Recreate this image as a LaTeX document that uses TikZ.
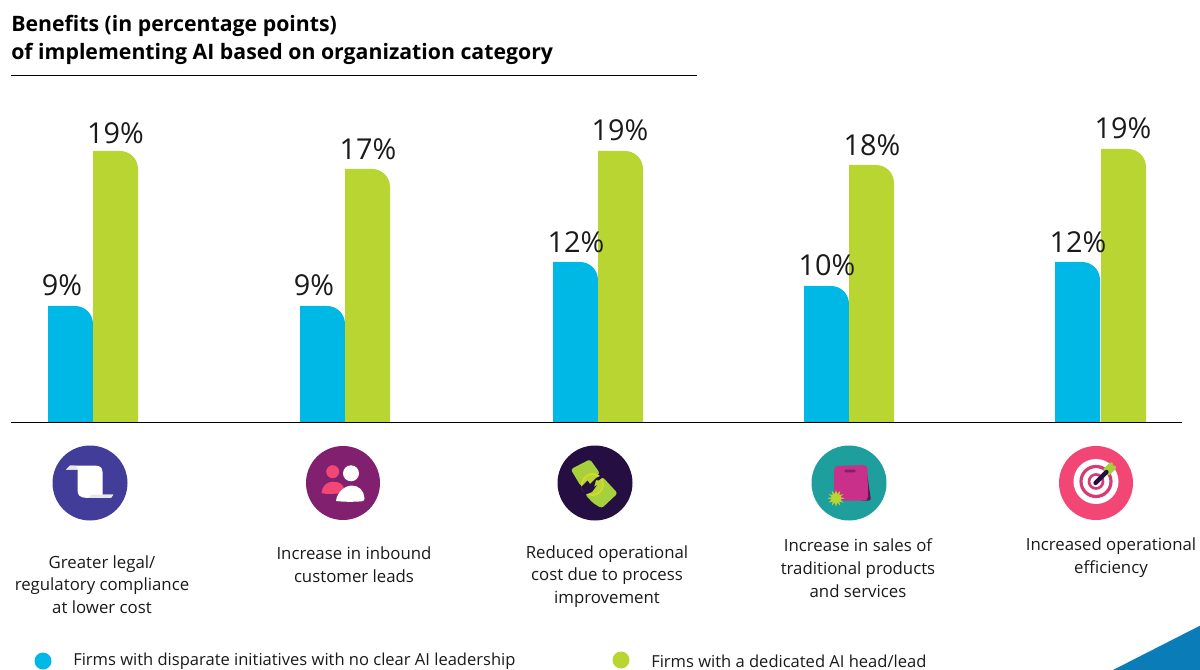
\documentclass[tikz,border=0pt]{standalone}
\usepackage{fontspec}
\setmainfont{Open Sans}
\definecolor{cblue}{HTML}{00B8E6}
\definecolor{cgreen}{HTML}{B9D532}
\definecolor{cink}{HTML}{1A1A1A}
\definecolor{cindigo}{HTML}{423D99}
\definecolor{cplum}{HTML}{80206F}
\definecolor{cpink}{HTML}{F24675}
\definecolor{cnight}{HTML}{250F42}
\definecolor{cteal}{HTML}{1F9E9E}
\definecolor{cmag}{HTML}{C9308A}
\definecolor{cnote}{HTML}{A6D03C}
\definecolor{cyel}{HTML}{D4D92A}
\definecolor{ccorner}{HTML}{0A7CB8}
\newcommand{\chartbar}[3]{%
  \fill[#3] (#1,422) -- (#1,#2) -- ({#1+27},#2) .. controls ({#1+37},#2) and ({#1+45},{#2+8}) .. ({#1+45},{#2+18}) -- ({#1+45},422) -- cycle;}
\tikzset{
  pct/.style={font=\fontsize{21.6pt}{24pt}\selectfont,text=cink,inner sep=0pt,anchor=center},
  captext/.style={font=\fontsize{12.6pt}{17.1pt}\selectfont,text=cink,align=center,inner sep=0pt,anchor=center},
  legtext/.style={font=\fontsize{12.4pt}{15pt}\selectfont,text=cink,inner sep=0pt,anchor=west},
  ttl/.style={font=\fontsize{15.95pt}{21pt}\selectfont\bfseries,text=black,align=left,inner sep=0pt,anchor=north west}
}
\begin{document}
\begin{tikzpicture}[x=0.75pt,y=-0.75pt]
\useasboundingbox (0,0) rectangle (1200,670);
\fill[white] (0,0) rectangle (1200,670);
% title
\node[ttl] (title) at (11,15) {Benefits (in percentage points)\\of implementing AI based on organization category};
\coordinate (ruleA) at (11,75); \coordinate (ruleB) at (697,75);
\draw[line width=0.6pt,black] (ruleA) -- (ruleB);
% bars
\chartbar{48}{306}{cblue}\chartbar{93}{151}{cgreen}
\chartbar{300}{306}{cblue}\chartbar{345}{169}{cgreen}
\chartbar{553}{262}{cblue}\chartbar{598}{151}{cgreen}
\chartbar{804}{286}{cblue}\chartbar{849}{165}{cgreen}
\chartbar{1055}{262}{cblue}\chartbar{1101}{149}{cgreen}
\coordinate (baseA) at (11,422); \coordinate (baseB) at (1182,422);
\draw[line width=0.6pt,black] (baseA) -- (baseB);
% values
\node[pct] (v1a) at (62,285) {9\%};
\node[pct] (v1b) at (115.5,133) {19\%};
\node[pct] (v2a) at (314,285) {9\%};
\node[pct] (v2b) at (368,149) {17\%};
\node[pct] (v3a) at (576,242) {12\%};
\node[pct] (v3b) at (620,130) {19\%};
\node[pct] (v4a) at (827,265) {10\%};
\node[pct] (v4b) at (872,145) {18\%};
\node[pct] (v5a) at (1078,242) {12\%};
\node[pct] (v5b) at (1123,128) {19\%};
% icon 1
\fill[cindigo] (90,483) circle[radius=37.5];
\fill[white] (70,465.7) -- (96,465.7) .. controls (100,465.7) and (102.5,468) .. (102.5,472) -- (102.5,494.5) -- (113.3,494.5) -- (111,497.8) -- (86,497.8) .. controls (80,497.8) and (77.5,495) .. (77.5,490) -- (77.5,469.5) -- (66,469.5) -- cycle;
\fill[black!9] (70,465.7) -- (75,465.7) .. controls (77,466.5) and (77.5,468) .. (77.5,469.5) -- (66,469.5) -- cycle;
\fill[black!9] (88,497.8) .. controls (90,496.5) and (91,495) .. (92,494.5) -- (113.3,494.5) -- (111,497.8) -- cycle;
% icon 2
\fill[cplum] (343,483) circle[radius=37];
\fill[cpink] (332.7,471.7) circle[radius=6.5];
\fill[cpink] (321.6,493) .. controls (322,485) and (328,481.7) .. (333,481.7) .. controls (340,481.7) and (344,485) .. (344,489) -- (338,493.5) .. controls (333,494) and (326,494) .. (323,493.5) -- cycle;
\fill[white] (351,473.3) circle[radius=8];
\fill[white] (336,501) .. controls (337,492) and (345,485.5) .. (352,485.5) .. controls (359,485.5) and (364,491) .. (364.5,498) .. controls (364.5,500) and (364,501) .. (362,501.3) .. controls (353,502) and (344,502) .. (336,501) -- cycle;
% icon 3
\fill[cnight] (595,483) circle[radius=37.5];
\fill[cnote,rounded corners=2pt] (570.7,469.3) -- (590,459.3) -- (600,473.3) -- (581,486.5) -- cycle;
\fill[cnote,rounded corners=2pt] (602.3,476.7) -- (617.7,493.3) -- (601.7,508.3) -- (593,503) -- (585,494.3) -- cycle;
\fill[cyel] (592.5,484.5) circle[radius=11.5];
\fill[cnote!60!cyel] (592.5,484.5) circle[radius=9.5];
\fill[cnight] (581,487) -- (587.5,480.5) -- (590,484) -- (596,478) -- (603,474.5) -- (604.5,476) -- (598.5,480.5) -- (596,480) -- (594,487) -- (597,485) -- (592,492) -- (585,494.8) -- cycle;
% icon 4
\fill[cteal] (849,483) circle[radius=37.5];
\fill[black!25!cplum,rounded corners=1.5pt] (866,466) -- (871,500.5) -- (860,500.7) -- (860,468) -- cycle;
\fill[cmag,rounded corners=3pt] (834,466) -- (867.5,465) -- (868,500.7) -- (834,500.7) -- cycle;
\fill[cplum,rounded corners=1pt] (844,469.7) rectangle (856,472.3);
\fill[cgreen] (836,498.3) +(0:8.5) -- +(15:4.5) -- +(30:8.5) -- +(45:4.5) -- +(60:8.5) -- +(75:4.5) -- +(90:8.5) -- +(105:4.5) -- +(120:8.5) -- +(135:4.5) -- +(150:8.5) -- +(165:4.5) -- +(180:8.5) -- +(195:4.5) -- +(210:8.5) -- +(225:4.5) -- +(240:8.5) -- +(255:4.5) -- +(270:8.5) -- +(285:4.5) -- +(300:8.5) -- +(315:4.5) -- +(330:8.5) -- +(345:4.5) -- cycle;
% icon 5
\fill[cpink] (1096,483) circle[radius=37];
\fill[white] (1096,481.5) circle[radius=22.5];
\draw[line width=2.4pt,cpink!75!cplum] (1096,481.5) circle[radius=15];
\draw[line width=2pt,cpink!75!cplum] (1096,481.5) circle[radius=7];
\draw[line width=3.2pt,cnote,line cap=round] (1105.5,470) -- (1111,464.5);
\draw[line width=3.2pt,cnote,line cap=round] (1108.5,473) -- (1114,467.5);
\draw[line width=3.2pt,cnight,line cap=round] (1095.5,483) -- (1106.5,472);
% captions
\node[captext] (c1) at (102,584.5) {Greater legal/\\regulatory compliance\\at lower cost};
\node[captext] (c2) at (354,564.5) {Increase in inbound\\customer leads};
\node[captext] (c3) at (607,576.5) {Reduced operational\\cost due to process\\improvement};
\node[captext] (c4) at (858,568) {Increase in sales of\\traditional products\\and services};
\node[captext] (c5) at (1111,557.5) {Increased operational\\efficiency};
% legend
\fill[cblue] (43,661) circle[radius=8.5];
\node[legtext] (l1) at (73,661) {Firms with disparate initiatives with no clear AI leadership};
\fill[cgreen] (621,660) circle[radius=8.5];
\node[legtext] (l2) at (651,661) {Firms with a dedicated AI head/lead};
% corner
\fill[ccorner] (1113,670) -- (1200,625.7) -- (1200,670) -- cycle;
\end{tikzpicture}
\end{document}
